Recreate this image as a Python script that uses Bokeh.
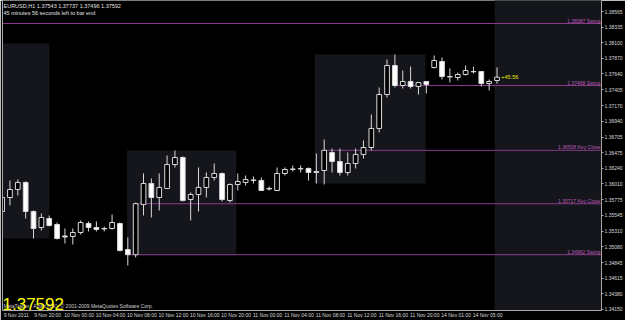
from bokeh.plotting import figure
from bokeh.models import (ColumnDataSource, Range1d, FixedTicker, LinearAxis, Label,
                          PrintfTickFormatter)
from bokeh.core.properties import value
from bokeh.embed import file_html
from bokeh.resources import INLINE

# ---------------- data ----------------
symbol = "EURUSD,H1"
countdown = "45 minutes 56 seconds left to bar end"
copyright_text = "MetaTrader - Alpari (UK), \u00a9 2001-2009 MetaQuotes Software Corp."
profit_text = "+45.56"

bar_open = [1.35602, 1.35809, 1.35928, 1.36032, 1.35602, 1.35365, 1.35498, 1.35409,
            1.35239, 1.35232, 1.35291, 1.35424, 1.35365, 1.35350, 1.35350, 1.35424,
            1.35039, 1.34962, 1.35706, 1.36017, 1.35809, 1.35943, 1.36298, 1.36402,
            1.35780, 1.35854, 1.35958, 1.36106, 1.36165, 1.35765, 1.36002, 1.36032,
            1.36061, 1.36061, 1.35943, 1.35913, 1.36165, 1.36224, 1.36232, 1.36239,
            1.36180, 1.36209, 1.36476, 1.36343, 1.36180, 1.36313, 1.36447, 1.36550,
            1.36832, 1.37335, 1.37765, 1.37468, 1.37528, 1.37454, 1.37528, 1.37735,
            1.37824, 1.37602, 1.37587, 1.37632, 1.37676, 1.37676, 1.37498, 1.37543]
bar_high = [1.35943, 1.36061, 1.36076, 1.36047, 1.35617, 1.35572, 1.35543, 1.35439,
            1.35350, 1.35350, 1.35469, 1.35454, 1.35454, 1.35380, 1.35558, 1.35439,
            1.35217, 1.35735, 1.36165, 1.36091, 1.36165, 1.36432, 1.36506, 1.36417,
            1.35884, 1.36254, 1.36180, 1.36313, 1.36180, 1.36017, 1.36165, 1.36135,
            1.36121, 1.36106, 1.35972, 1.36254, 1.36254, 1.36284, 1.36284, 1.36254,
            1.36461, 1.36669, 1.36535, 1.36535, 1.36476, 1.36535, 1.36654, 1.37039,
            1.37439, 1.37854, 1.37928, 1.37691, 1.37750, 1.37513, 1.37528, 1.37913,
            1.37884, 1.37721, 1.37661, 1.37765, 1.37750, 1.37676, 1.37558, 1.37737]
bar_low = [1.35543, 1.35691, 1.35839, 1.35498, 1.35202, 1.35321, 1.35380, 1.35187,
           1.35128, 1.35113, 1.35261, 1.35306, 1.35306, 1.35306, 1.35335, 1.35009,
           1.34802, 1.34921, 1.35543, 1.35513, 1.35617, 1.35935, 1.36254, 1.35750,
           1.35469, 1.35602, 1.35809, 1.36061, 1.35750, 1.35735, 1.35913, 1.35987,
           1.36017, 1.35905, 1.35913, 1.35905, 1.36135, 1.36195, 1.36180, 1.36061,
           1.36017, 1.36002, 1.36180, 1.36135, 1.36135, 1.36239, 1.36387, 1.36506,
           1.36772, 1.37291, 1.37439, 1.37424, 1.37424, 1.37335, 1.37350, 1.37721,
           1.37558, 1.37513, 1.37543, 1.37617, 1.37647, 1.37454, 1.37395, 1.37496]
bar_close = [1.35809, 1.35928, 1.36032, 1.35602, 1.35350, 1.35513, 1.35395, 1.35202,
             1.35224, 1.35291, 1.35439, 1.35365, 1.35335, 1.35343, 1.35439, 1.35024,
             1.34962, 1.35717, 1.36017, 1.35809, 1.35958, 1.36298, 1.36402, 1.35765,
             1.35854, 1.35958, 1.36106, 1.36165, 1.35780, 1.36002, 1.36047, 1.36076,
             1.36069, 1.35913, 1.35935, 1.36165, 1.36224, 1.36232, 1.36239, 1.36180,
             1.36195, 1.36508, 1.36343, 1.36180, 1.36313, 1.36447, 1.36550, 1.36832,
             1.37335, 1.37765, 1.37468, 1.37528, 1.37454, 1.37513, 1.37484, 1.37839,
             1.37602, 1.37595, 1.37632, 1.37691, 1.37672, 1.37498, 1.37528, 1.37592]

time_tick_bars = [0, 4, 8, 12, 16, 20, 24, 28, 32, 36, 40, 44, 48, 52, 56, 60]
time_tick_labels = ["9 Nov 2011", "9 Nov 20:00", "10 Nov 00:00", "10 Nov 04:00",
                    "10 Nov 08:00", "10 Nov 12:00", "10 Nov 16:00", "10 Nov 20:00",
                    "11 Nov 00:00", "11 Nov 04:00", "11 Nov 08:00", "11 Nov 12:00",
                    "11 Nov 16:00", "11 Nov 20:00", "14 Nov 01:00", "14 Nov 05:00"]

price_ticks = [1.38565, 1.38335, 1.38100, 1.37870, 1.37640, 1.37405, 1.37170, 1.36940,
               1.36705, 1.36475, 1.36240, 1.36010, 1.35775, 1.35545, 1.35310, 1.35080,
               1.34845, 1.34615, 1.34380, 1.34150]

level_prices = [1.38387, 1.37468, 1.36508, 1.35717, 1.34962]
level_names = ["Swing", "Swing", "Key Close", "Key Close", "Swing"]
level_start_bars = [-10, 50, 41, 17, 16]

box_left = [-10, 15.9, 39.8, 62.7]
box_right = [6.0, 29.8, 53.9, 90]
box_top = [1.38091, 1.36506, 1.37928, 1.3950]
box_bottom = [1.35202, 1.34950, 1.36017, 1.3300]

# ---------------- styling constants ----------------
X_START, X_END = 0.05, 76.3
Y_MIN, Y_MAX = 1.34135, 1.38728
BG = "#000000"
CANDLE = "#d8d8d8"
AXIS = "#a8a8a8"
BOX = "#15161c"
LEVEL = "#8a3a8a"
LEVEL_TXT = "#b85cb8"
FONT = "Liberation Sans"
LABEL_SHIFT = 1.8

p = figure(width=625, height=320, x_range=Range1d(X_START, X_END),
           y_range=Range1d(Y_MIN, Y_MAX), output_backend="svg", toolbar_location=None,
           y_axis_location="right", background_fill_color=BG, border_fill_color=BG,
           min_border_left=2, min_border_right=0, min_border_top=0, min_border_bottom=10)
p.outline_line_color = None
p.grid.visible = False

# shaded session boxes
p.quad(left=box_left, right=box_right, top=box_top, bottom=box_bottom,
       fill_color=BOX, line_color=None)

# level lines and labels
p.segment(x0=level_start_bars, y0=level_prices, x1=[200] * len(level_prices),
          y1=level_prices, line_color=LEVEL, line_width=1)
lvl_src = ColumnDataSource(dict(
    x=[X_END - 0.15] * len(level_prices), y=level_prices,
    t=[f"{v:.5f} {n}" for v, n in zip(level_prices, level_names)]))
p.text(x="x", y="y", text="t", source=lvl_src, text_align="right",
       text_baseline="bottom", text_color=LEVEL_TXT, text_font_size="5px",
       text_font=value(FONT))

# candles
n = len(bar_open)
src = ColumnDataSource(dict(
    x=list(range(n)), h=bar_high, l=bar_low,
    top=[max(o, c) for o, c in zip(bar_open, bar_close)],
    bottom=[min(o, c) for o, c in zip(bar_open, bar_close)],
    fill=["#ffffff" if c < o else "#000000" for o, c in zip(bar_open, bar_close)]))
p.segment(x0="x", y0="h", x1="x", y1="l", source=src, line_color=CANDLE, line_width=1)
p.vbar(x="x", width=0.6, top="top", bottom="bottom", source=src,
       fill_color="fill", line_color=CANDLE, line_width=1)

# profit text next to the last bar
p.text(x=[n - 1 + 0.55], y=[bar_close[-1]], text=[profit_text], text_color="#e8e800",
       text_font_size="5.5px", text_baseline="middle", text_font=value(FONT))

# axes
p.yaxis.ticker = FixedTicker(ticks=price_ticks)
p.yaxis.formatter = PrintfTickFormatter(format="%.5f")
p.xaxis.ticker = FixedTicker(ticks=[b + LABEL_SHIFT for b in time_tick_bars])
p.xaxis.major_label_overrides = {b + LABEL_SHIFT: t
                                 for b, t in zip(time_tick_bars, time_tick_labels)}
for ax in (p.xaxis[0], p.yaxis[0]):
    ax.axis_line_color = AXIS
    ax.major_tick_line_color = AXIS
    ax.minor_tick_line_color = None
    ax.major_tick_in = 0
    ax.major_tick_out = 2
    ax.major_label_standoff = 1
    ax.major_label_text_color = "#d8d8d8"
    ax.major_label_text_font_size = "5px"
    ax.major_label_text_font = FONT
p.xaxis.major_tick_line_color = None
p.xaxis.major_tick_out = 0

left_ax = LinearAxis(ticker=FixedTicker(ticks=[]), major_label_text_font_size="0px",
                     major_tick_in=0, major_tick_out=0, major_label_standoff=0,
                     axis_line_color=AXIS, minor_tick_line_color=None)
p.add_layout(left_ax, "left")

# header texts
last = n - 1
p.add_layout(Label(x=1, y=308, x_units="screen", y_units="screen",
                   text=f"{symbol}  {bar_open[last]:.5f} {bar_high[last]:.5f} "
                        f"{bar_low[last]:.5f} {bar_close[last]:.5f}",
                   text_baseline="top", text_color="#e0e0e0", text_font_size="5.5px",
                   text_font=FONT))
p.add_layout(Label(x=1, y=301, x_units="screen", y_units="screen", text=countdown,
                   text_baseline="top", text_color="#e0e0e0", text_font_size="5.5px",
                   text_font=FONT))

# bottom texts
p.add_layout(Label(x=1, y=5, x_units="screen", y_units="screen", text=copyright_text,
                   text_baseline="alphabetic", text_color="#d0d0d0",
                   text_font_size="5px", text_font=FONT))
p.add_layout(Label(x=0, y=7, x_units="screen", y_units="screen",
                   text=f"{bar_close[-1]:.5f}", text_baseline="alphabetic",
                   text_color="#ffff00", text_font_size="17px", text_font=FONT))

open("out.html", "w").write(file_html(p, INLINE))
